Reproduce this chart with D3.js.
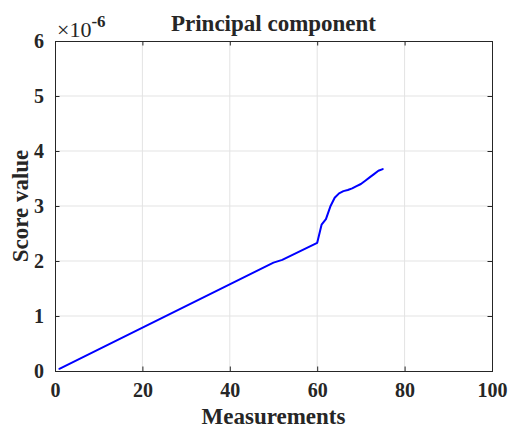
<!DOCTYPE html>
<html>
<head>
<meta charset="utf-8">
<script src="https://cdn.jsdelivr.net/npm/d3@7"></script>
<style>
  html, body { margin: 0; padding: 0; background: #fff; }
  svg { display: block; }
  text { font-family: "Liberation Serif", "Times New Roman", serif; font-weight: bold; fill: #262626; }
</style>
</head>
<body>
<svg id="chart" width="508" height="428"></svg>
<script>
// Principal component score versus measurement index (values in units of 1e-6)
const measurements = [1, 50, 52, 60, 61, 62, 63, 64, 65, 66, 67, 68, 69, 70, 71, 72, 73, 74, 75];
const scores       = [0.04, 1.97, 2.02, 2.33, 2.66, 2.76, 2.99, 3.15, 3.23, 3.27, 3.29, 3.32, 3.36, 3.40, 3.46, 3.52, 3.58, 3.64, 3.67];

const xTicks = [0, 20, 40, 60, 80, 100];
const yTicks = [0, 1, 2, 3, 4, 5, 6];

const titleText = "Principal component";
const xLabel = "Measurements";
const yLabel = "Score value";

const svg = d3.select("#chart");
const m = { left: 55, right: 16, top: 41, bottom: 57 };
const W = 508, H = 428;
const pw = W - m.left - m.right, ph = H - m.top - m.bottom;

const x = d3.scaleLinear().domain([0, 100]).range([m.left, m.left + pw]);
const y = d3.scaleLinear().domain([0, 6]).range([m.top + ph, m.top]);

const axisColor = "#262626";
const gridColor = "#e3e3e3";
const tickLen = 4.5;

// grid
const grid = svg.append("g");
grid.selectAll("line.gx").data(xTicks.slice(1, -1)).join("line")
  .attr("x1", d => x(d)).attr("x2", d => x(d))
  .attr("y1", m.top).attr("y2", m.top + ph)
  .attr("stroke", gridColor).attr("stroke-width", 1);
grid.selectAll("line.gy").data(yTicks.slice(1, -1)).join("line")
  .attr("y1", d => y(d)).attr("y2", d => y(d))
  .attr("x1", m.left).attr("x2", m.left + pw)
  .attr("stroke", gridColor).attr("stroke-width", 1);

// data line
const line = d3.line().x((d, i) => x(measurements[i])).y(d => y(d));
svg.append("path").datum(scores)
  .attr("d", line)
  .attr("fill", "none")
  .attr("stroke", "#0000ff")
  .attr("stroke-width", 2)
  .attr("stroke-linejoin", "round")
  .attr("stroke-linecap", "round");

// axes (ticks pointing inward, box on)
function styleAxis(g) {
  g.select(".domain").remove();
  g.selectAll(".tick line").attr("stroke", axisColor).attr("stroke-width", 1);
}
const fontTick = 20;

svg.append("g").attr("transform", `translate(0,${m.top + ph})`)
  .call(d3.axisBottom(x).tickValues(xTicks).tickSize(-tickLen).tickPadding(12).tickFormat(d3.format("d")))
  .call(styleAxis)
  .call(g => g.attr("font-family", null).selectAll(".tick text").attr("font-size", fontTick).attr("fill", axisColor));

svg.append("g").attr("transform", `translate(0,${m.top})`)
  .call(d3.axisTop(x).tickValues(xTicks).tickSize(-tickLen).tickFormat(""))
  .call(styleAxis);

svg.append("g").attr("transform", `translate(${m.left},0)`)
  .call(d3.axisLeft(y).tickValues(yTicks).tickSize(-tickLen).tickPadding(11).tickFormat(d3.format("d")))
  .call(styleAxis)
  .call(g => g.attr("font-family", null).selectAll(".tick text").attr("font-size", fontTick).attr("fill", axisColor));

svg.append("g").attr("transform", `translate(${m.left + pw},0)`)
  .call(d3.axisRight(y).tickValues(yTicks).tickSize(-tickLen).tickFormat(""))
  .call(styleAxis);

// box
svg.append("rect")
  .attr("x", m.left + 0.5).attr("y", m.top + 0.5)
  .attr("width", pw).attr("height", ph)
  .attr("fill", "none").attr("stroke", axisColor).attr("stroke-width", 1);

// exponent label
const ex = svg.append("text").attr("x", m.left + 2).attr("y", 37)
  .style("font-size", "22px").style("font-weight", "normal");
ex.append("tspan").text("\u00d710");
ex.append("tspan").attr("dy", -10).style("font-size", "17px").style("font-weight", "bold").text("-6");

// title and axis labels
svg.append("text").attr("x", m.left + pw / 2).attr("y", 31)
  .attr("text-anchor", "middle").attr("font-size", 23).attr("fill", "#000").text(titleText);

svg.append("text").attr("x", m.left + pw / 2).attr("y", 424)
  .attr("text-anchor", "middle").attr("font-size", 23).text(xLabel);

svg.append("text").attr("transform", `translate(28,${m.top + ph / 2}) rotate(-90)`)
  .attr("text-anchor", "middle").attr("font-size", 23).text(yLabel);
</script>
</body>
</html>
